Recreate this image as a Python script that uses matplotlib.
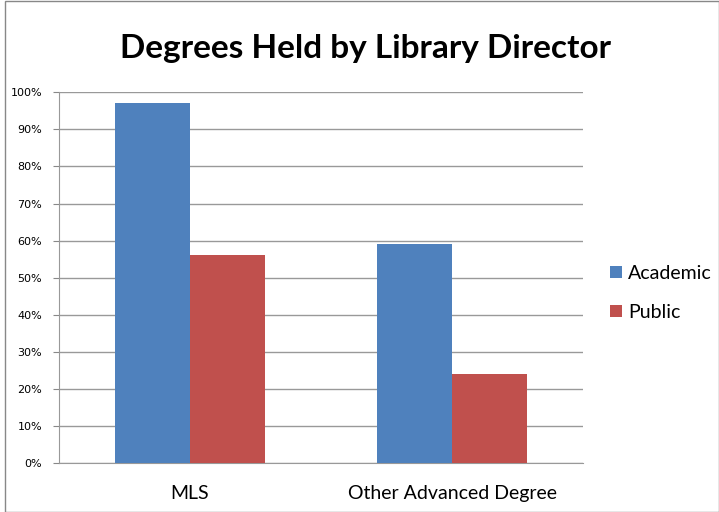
import matplotlib.pyplot as plt
import matplotlib.patches as mpatches
import numpy as np

# data
categories = ['MLS', 'Other Advanced Degree']
academic = [97, 59]
public = [56, 24]
series_names = ['Academic', 'Public']

blue = '#4F81BD'
red = '#C0504D'

plt.rcParams['font.family'] = ['Lato', 'DejaVu Sans']

fig = plt.figure(figsize=(7.19, 5.12), dpi=100)
ax = fig.add_axes([0.082, 0.0957, 0.729, 0.724])

x = np.arange(len(categories))
w = 0.286
ax.bar(x - w/2, academic, w, color=blue, label=series_names[0], zorder=3)
ax.bar(x + w/2, public, w, color=red, label=series_names[1], zorder=3)

ax.set_xlim(-0.5, len(categories) - 0.5)
ax.set_ylim(0, 100)
ax.set_yticks(np.arange(0, 101, 10))
ax.set_yticklabels([f'{v}%' for v in range(0, 101, 10)], fontsize=8,
                   family=['DejaVu Sans'])
ax.set_xticks(x)
ax.set_xticklabels(categories, fontsize=14)
ax.tick_params(axis='x', length=0, pad=16)
ax.tick_params(axis='y', length=4, color='#888888', pad=8)

ax.grid(axis='y', color='#999999', linewidth=1, zorder=0)
for s in ['top', 'right']:
    ax.spines[s].set_visible(False)
for s in ['left', 'bottom']:
    ax.spines[s].set_color('#999999')

fig.text(0.508, 0.906, 'Degrees Held by Library Director', ha='center',
         va='center', fontsize=24, fontweight='bold')

fig.legend(loc='center left', bbox_to_anchor=(0.849, 0.428), frameon=False,
           fontsize=14, handlelength=0.6, handleheight=0.6,
           handletextpad=0.3, labelspacing=1.15, borderaxespad=0,
           borderpad=0)

# thin border around the whole chart
fig.patches.append(mpatches.Rectangle((0.007, 0.0), 0.993, 0.998,
                                      transform=fig.transFigure, fill=False,
                                      edgecolor='#888888', linewidth=1))

fig.savefig('out.png', dpi=100)
